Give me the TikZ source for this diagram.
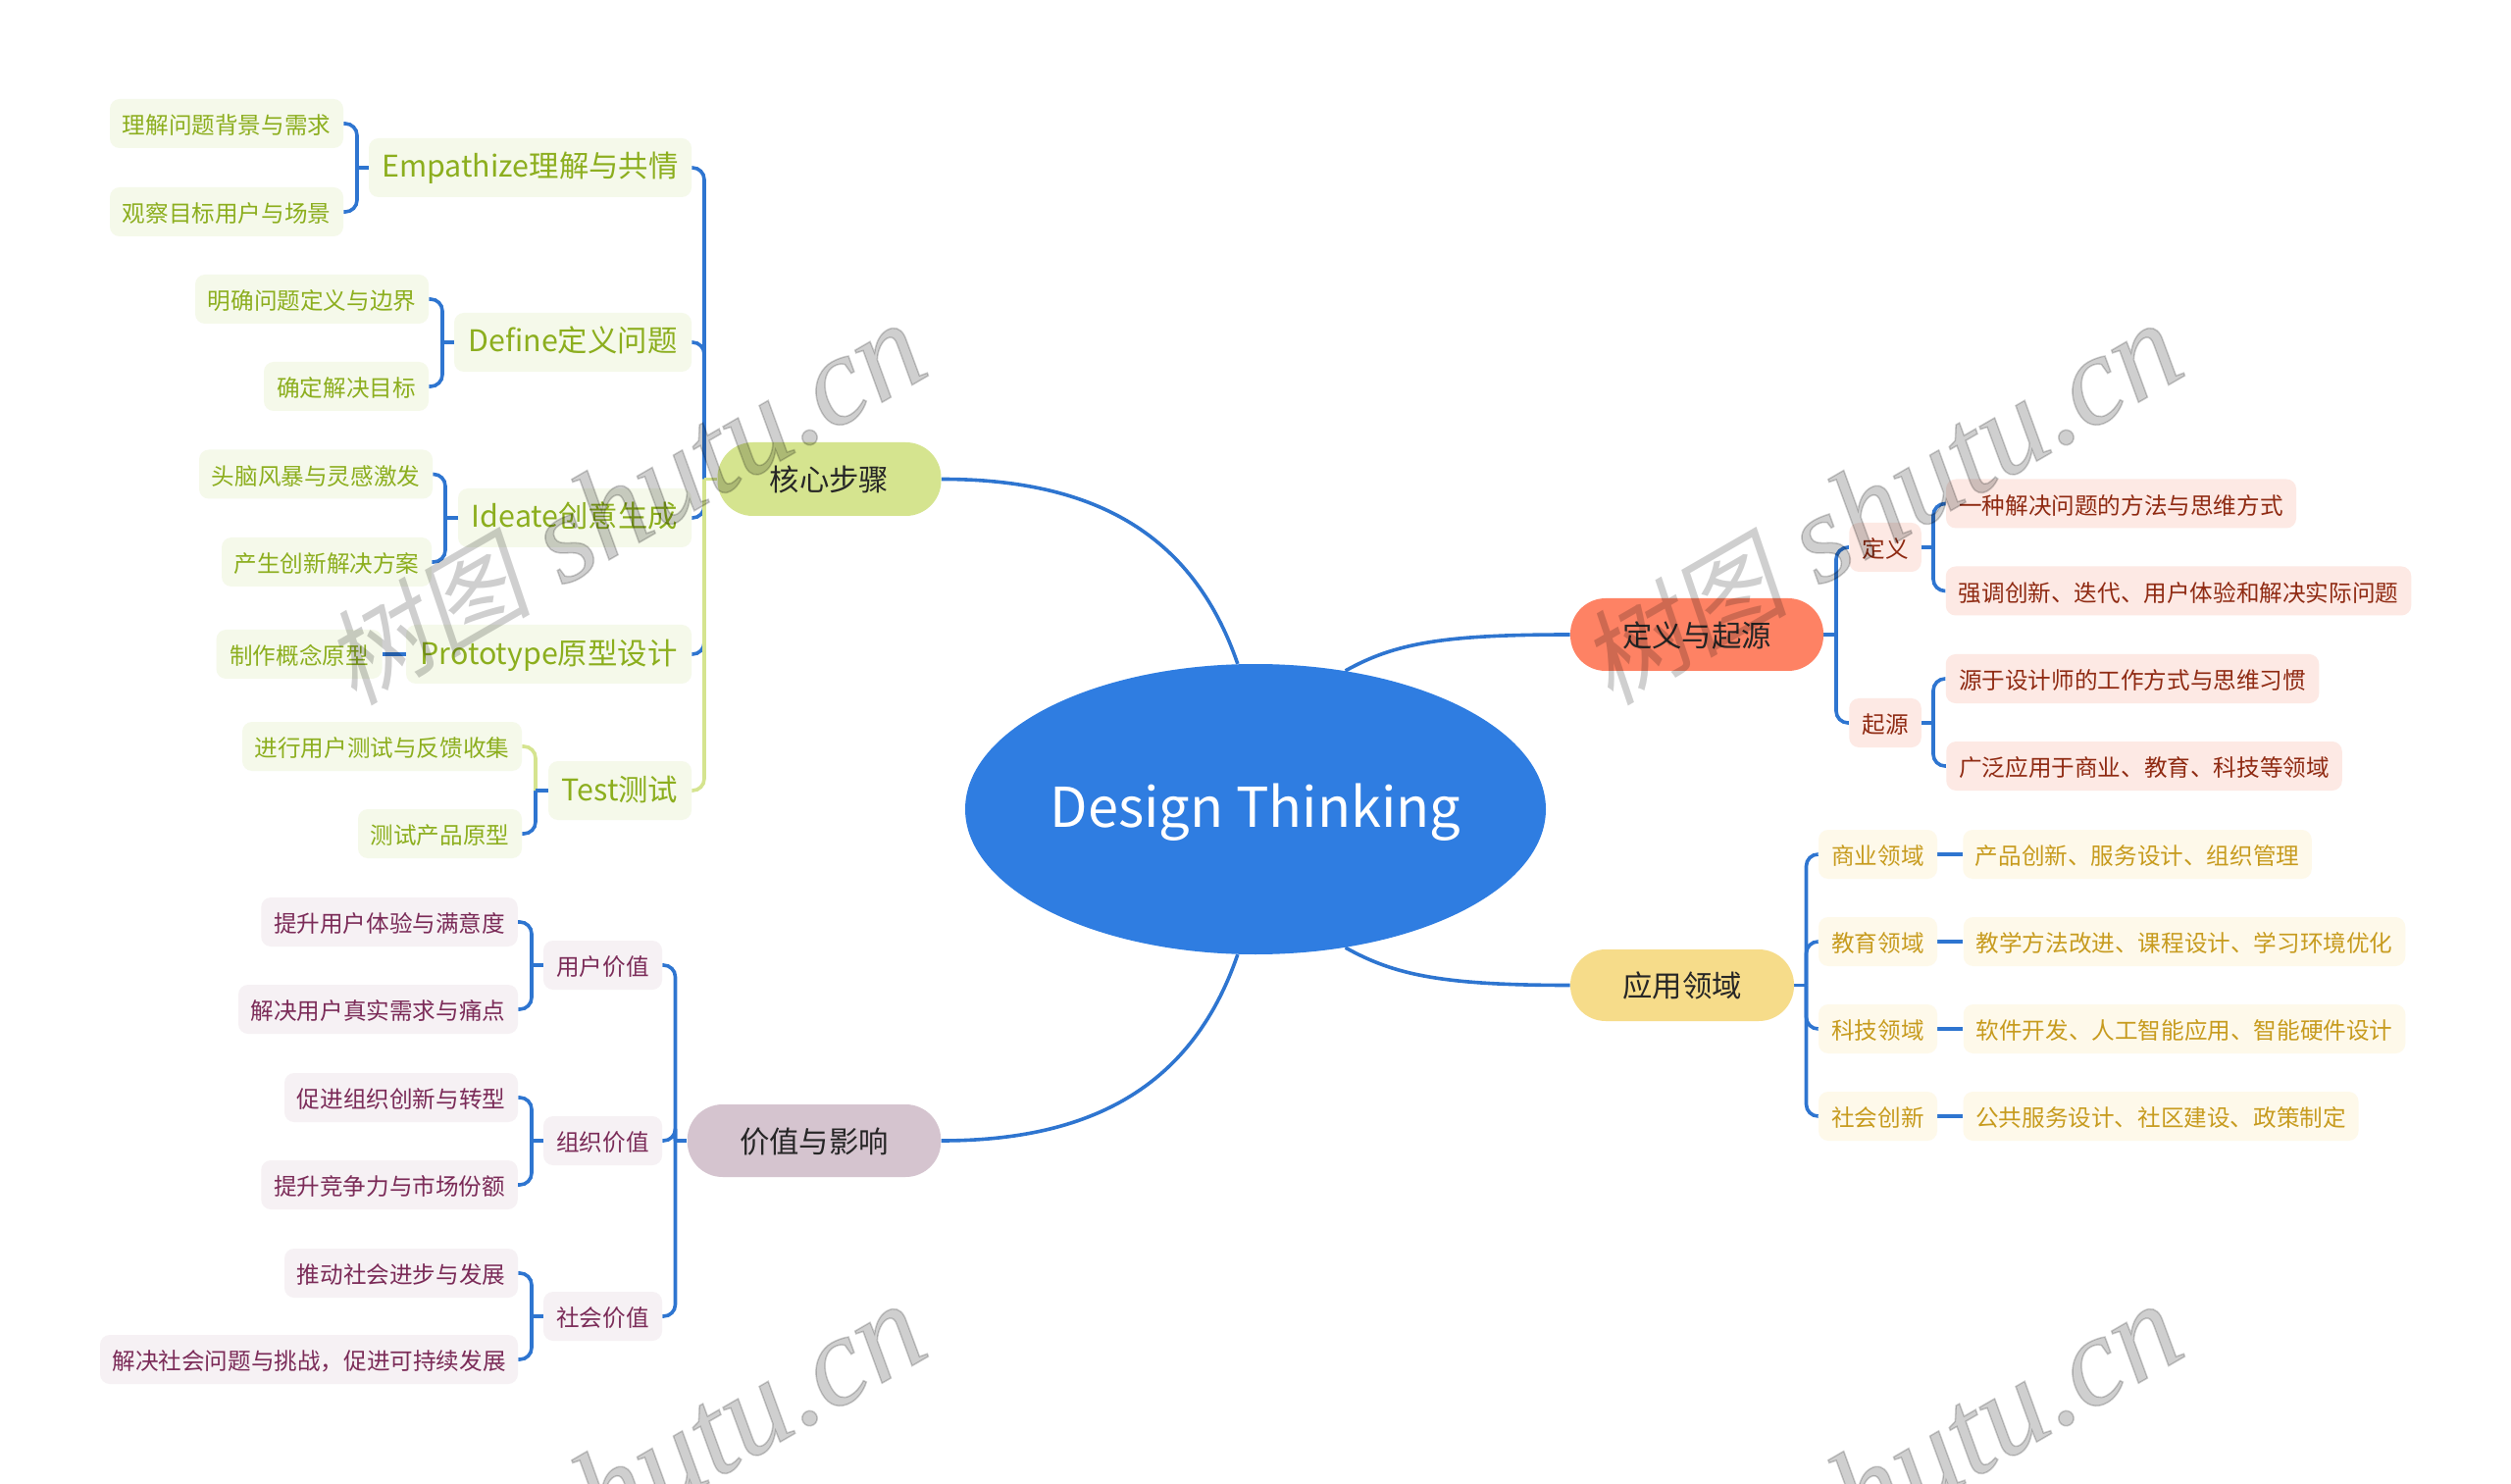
\documentclass[tikz,border=0pt]{standalone}
\usepackage{fontspec}
\setmainfont{Noto Sans CJK SC}
\newfontfamily\wmcjk[FakeSlant=0.2]{Noto Sans CJK SC}
\newfontfamily\wmlat[FakeBold=1.2]{Liberation Serif}
\usetikzlibrary{shapes.geometric,backgrounds,calc}
\definecolor{conn}{HTML}{2E75D0}
\definecolor{lime}{HTML}{D5E48F}
\definecolor{gbg}{HTML}{F5F9EA}\definecolor{gtx}{HTML}{8CAE1E}
\definecolor{pbg}{HTML}{F6F1F4}\definecolor{ptx}{HTML}{7B2B58}
\definecolor{rbg}{HTML}{FDE9E4}\definecolor{rtx}{HTML}{8F2A12}
\definecolor{ybg}{HTML}{FEF9EA}\definecolor{ytx}{HTML}{C79B1E}
\newcommand\wmtext{{\fontsize{53pt}{60pt}\selectfont\wmcjk 树图} shutu.cn}
\tikzset{
  base/.style={rectangle,inner sep=0pt,align=center},
  small/.style={base,rounded corners=5pt,text height=1.10em,text depth=.04em,font=\fontsize{11.8pt}{14pt}\selectfont},
  mid/.style={base,rounded corners=5pt,text height=1.04em,text depth=.04em,font=\fontsize{15.2pt}{18pt}\selectfont},
  pill/.style={base,rounded corners=18pt,text height=1.28em,text depth=.04em,font=\fontsize{15.2pt}{18pt}\selectfont,text=black!85},
  gs/.style={small,fill=gbg,text=gtx}, gm/.style={mid,fill=gbg,text=gtx},
  ps/.style={small,fill=pbg,text=ptx},
  rs/.style={small,fill=rbg,text=rtx},
  ys/.style={small,fill=ybg,text=ytx},
  link/.style={draw=conn,line width=1.8pt,rounded corners=6pt},
  wm/.style={rotate=30,text=black,text opacity=.19,font=\fontsize{65pt}{70pt}\selectfont\wmlat\itshape},
}
\newcommand\nd[7]{\node[#1,minimum width=#5*0.5pt,minimum height=#6*0.5pt] (#2) at (#3,#4) {#7};}
% child on the left of parent: child, parent, spine, colour of the hook, colour of the stem
\newcommand\lk[5]{\draw[link,draw=#4] (#1.east) -- (#1.east -| #3) -- (#2.west -| #3);
  \draw[link,draw=#5] (#2.west -| #3) -- (#2.west);}
\newcommand\rk[5]{\draw[link,draw=#4] (#1.west) -- (#1.west -| #3) -- (#2.east -| #3);
  \draw[link,draw=#5] (#2.east -| #3) -- (#2.east);}
\begin{document}
\begin{tikzpicture}[x=0.5pt,y=-0.5pt]
\useasboundingbox (0,0) rectangle (2560,1513);
\node[ellipse,fill={rgb,255:red,47;green,125;blue,225},inner sep=0pt,minimum width=295pt,minimum height=148pt,text=white,text height=1.9em,text depth=.04em,font=\fontsize{28pt}{32pt}\selectfont] (root) at (1280,825) {Design Thinking};

\nd{pill,fill=lime}{core}{845.5}{488.5}{228}{75}{核心步骤}
\nd{pill,fill={rgb,255:red,213;green,196;blue,207}}{val}{830}{1163}{258.5}{74}{价值与影响}
\nd{pill,fill={rgb,255:red,254;green,130;blue,100}}{orig}{1730}{647}{258}{74}{定义与起源}
\nd{pill,fill={rgb,255:red,246;green,220;blue,138}}{app}{1715}{1004.5}{228}{73}{应用领域}

\nd{gm}{E}{540.5}{171}{329}{60}{Empathize理解与共情}
\nd{gs}{e1}{231}{126}{238}{50}{理解问题背景与需求}
\nd{gs}{e2}{231}{216}{238}{50}{观察目标用户与场景}
\nd{gm}{D}{584}{349}{242}{60}{Define定义问题}
\nd{gs}{d1}{318}{305}{238}{50}{明确问题定义与边界}
\nd{gs}{d2}{353}{394}{168}{50}{确定解决目标}
\nd{gm}{I}{586}{528}{238}{60}{Ideate创意生成}
\nd{gs}{i1}{322}{483.5}{238}{50}{头脑风暴与灵感激发}
\nd{gs}{i2}{333}{573}{214}{50}{产生创新解决方案}
\nd{gm}{P}{559.5}{667}{291}{60}{Prototype原型设计}
\nd{gs}{p1}{305}{667}{169}{50}{制作概念原型}
\nd{gm}{T}{632}{806}{146}{60}{Test测试}
\nd{gs}{t1}{389.5}{761}{285}{50}{进行用户测试与反馈收集}
\nd{gs}{t2}{448.5}{850}{167}{50}{测试产品原型}

\nd{ps}{U}{614.5}{984}{121}{50}{用户价值}
\nd{ps}{u1}{397}{940}{261.5}{50}{提升用户体验与满意度}
\nd{ps}{u2}{385.5}{1029}{285}{50}{解决用户真实需求与痛点}
\nd{ps}{O}{614.5}{1163}{121}{50}{组织价值}
\nd{ps}{o1}{409}{1119}{238}{50}{促进组织创新与转型}
\nd{ps}{o2}{397}{1208}{261.5}{50}{提升竞争力与市场份额}
\nd{ps}{S}{614.5}{1342}{121}{50}{社会价值}
\nd{ps}{s1}{409}{1298}{238}{50}{推动社会进步与发展}
\nd{ps}{s2}{315}{1386}{426}{50}{解决社会问题与挑战，促进可持续发展}

\nd{rs}{def}{1922}{558}{73.5}{50}{定义}
\nd{rs}{a1}{2162.5}{513.5}{357}{50}{一种解决问题的方法与思维方式}
\nd{rs}{a2}{2221}{602.5}{474.5}{50}{强调创新、迭代、用户体验和解决实际问题}
\nd{rs}{ori}{1922}{737}{73.5}{50}{起源}
\nd{rs}{b1}{2174}{692}{380.5}{50}{源于设计师的工作方式与思维习惯}
\nd{rs}{b2}{2186}{781}{403.5}{50}{广泛应用于商业、教育、科技等领域}

\nd{ys}{f1}{1914.5}{871}{121}{50}{商业领域}
\nd{ys}{g1}{2179}{871}{355.5}{50}{产品创新、服务设计、组织管理}
\nd{ys}{f2}{1914.5}{960}{121}{50}{教育领域}
\nd{ys}{g2}{2227}{960}{450.5}{50}{教学方法改进、课程设计、学习环境优化}
\nd{ys}{f3}{1914.5}{1049}{121}{50}{科技领域}
\nd{ys}{g3}{2227}{1049}{450.5}{50}{软件开发、人工智能应用、智能硬件设计}
\nd{ys}{f4}{1914.5}{1138}{121}{50}{社会创新}
\nd{ys}{g4}{2203}{1138}{403}{50}{公共服务设计、社区建设、政策制定}

\coordinate (xcore) at (718,0);
\coordinate (xe) at (364,0);
\coordinate (xd) at (451,0);
\coordinate (xi) at (454,0);
\coordinate (xt) at (546,0);
\coordinate (xval) at (688.5,0);
\coordinate (xu) at (542,0);
\coordinate (xorig) at (1872,0);
\coordinate (xdef) at (1971,0);
\coordinate (xapp) at (1841.5,0);

\begin{pgfonlayer}{background}
\fill[white] (0,0) rectangle (2560,1513);
\draw[link] (core.east) .. controls +(150,0) and +(-47,-137) .. (root.97);
\draw[link] (val.east) .. controls +(150,0) and +(-47,137) .. (root.-97);
\draw[link] (orig.west) .. controls +(-130,0) and +(50,-28) .. (root.57);
\draw[link] (app.west) .. controls +(-130,0) and +(50,28) .. (root.-57);
\lk{E}{core}{xcore}{conn}{conn}
\lk{D}{core}{xcore}{conn}{conn}
\lk{I}{core}{xcore}{conn}{conn}
\lk{P}{core}{xcore}{conn}{conn}
\lk{T}{core}{xcore}{lime}{lime}
\lk{e1}{E}{xe}{conn}{conn}
\lk{e2}{E}{xe}{conn}{conn}
\lk{d1}{D}{xd}{conn}{conn}
\lk{d2}{D}{xd}{conn}{conn}
\lk{i1}{I}{xi}{conn}{conn}
\lk{i2}{I}{xi}{conn}{conn}
\draw[link] (p1.east) -- (P.west);
\lk{t2}{T}{xt}{conn}{conn}
\lk{t1}{T}{xt}{lime}{conn}
\lk{U}{val}{xval}{conn}{conn}
\lk{O}{val}{xval}{conn}{conn}
\lk{S}{val}{xval}{conn}{conn}
\lk{u1}{U}{xu}{conn}{conn}
\lk{u2}{U}{xu}{conn}{conn}
\lk{o1}{O}{xu}{conn}{conn}
\lk{o2}{O}{xu}{conn}{conn}
\lk{s1}{S}{xu}{conn}{conn}
\lk{s2}{S}{xu}{conn}{conn}
\rk{def}{orig}{xorig}{conn}{conn}
\rk{ori}{orig}{xorig}{conn}{conn}
\rk{a1}{def}{xdef}{conn}{conn}
\rk{a2}{def}{xdef}{conn}{conn}
\rk{b1}{ori}{xdef}{conn}{conn}
\rk{b2}{ori}{xdef}{conn}{conn}
\rk{f1}{app}{xapp}{conn}{conn}
\rk{f2}{app}{xapp}{conn}{conn}
\rk{f3}{app}{xapp}{conn}{conn}
\rk{f4}{app}{xapp}{conn}{conn}
\draw[link] (f1.east) -- (g1.west);
\draw[link] (f2.east) -- (g2.west);
\draw[link] (f3.east) -- (g3.west);
\draw[link] (f4.east) -- (g4.west);
\end{pgfonlayer}

\node[wm] (w1) at (636,515) {\wmtext};
\node[wm] (w2) at (1917,515) {\wmtext};
\node[wm] (w3) at (636,1515) {\wmtext};
\node[wm] (w4) at (1917,1515) {\wmtext};
\end{tikzpicture}
\end{document}
